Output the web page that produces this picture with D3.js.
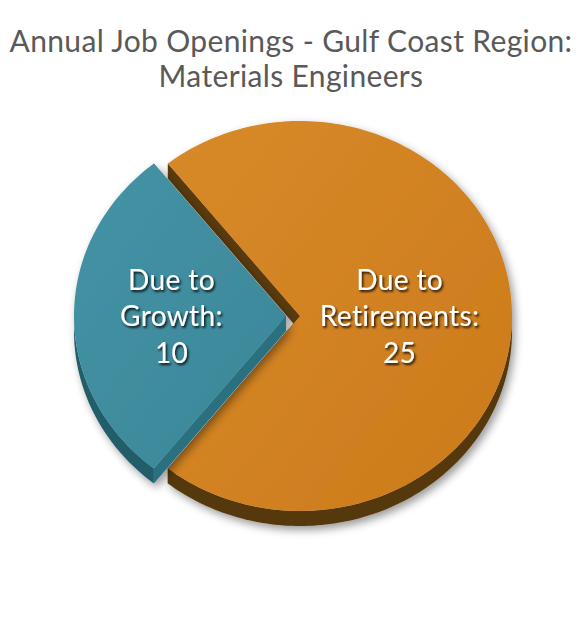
<!DOCTYPE html>
<html><head><meta charset="utf-8">
<script src="https://cdn.jsdelivr.net/npm/d3@7"></script>
<style>html,body{margin:0;padding:0;background:#fff;}svg{display:block;}</style>
</head><body>
<script>
const titleLines = ["Annual Job Openings - Gulf Coast Region:", "Materials Engineers"];
const categories = ["Due to Retirements", "Due to Growth"];
const labelLines = [["Due to", "Retirements:"], ["Due to", "Growth:"]];
const values = [25, 10];
const topColors = [["#d98b2b", "#cc7b1b"], ["#4494a6", "#367f90"]];
const sideColors = ["#5a3a0c", "#2a6f7f"];
const rimColors = ["#573709", "#235d6b"];

const W = 580, H = 617;
const svg = d3.select("body").append("svg").attr("width", W).attr("height", H);
const defs = svg.append("defs");

const sh = defs.append("filter").attr("id", "pieShadow").attr("x", "-20%").attr("y", "-20%").attr("width", "140%").attr("height", "140%");
sh.append("feDropShadow").attr("dx", 3).attr("dy", 4).attr("stdDeviation", 4).attr("flood-color", "#000").attr("flood-opacity", 0.4);
const ts = defs.append("filter").attr("id", "txtShadow").attr("x", "-20%").attr("y", "-30%").attr("width", "140%").attr("height", "160%");
ts.append("feDropShadow").attr("dx", 1.5).attr("dy", 2).attr("stdDeviation", 1.2).attr("flood-color", "#000").attr("flood-opacity", 0.85);

const cx = 300, cy = 316, rx = 212, ry = 195, depth = 15;

topColors.forEach((c, i) => {
  const g = defs.append("linearGradient").attr("id", "grad" + i)
    .attr("gradientUnits", "userSpaceOnUse").attr("x1", 80).attr("y1", 150).attr("x2", 510).attr("y2", 480);
  g.append("stop").attr("offset", 0).attr("stop-color", c[0]);
  g.append("stop").attr("offset", 1).attr("stop-color", c[1]);
});

const total = d3.sum(values);
const growthAngle = 2 * Math.PI * values[1] / total;
const start = -Math.PI / 2 + growthAngle / 2;
const pie = d3.pie().sort(null).startAngle(start).endAngle(start + 2 * Math.PI);
const arcs = pie(values);

const sx = d3.scaleLinear().domain([0, 1]).range([0, rx]);
const sy = d3.scaleLinear().domain([0, 1]).range([0, ry]);

function pt(ox, oy, a, r, dz) {
  return [ox + sx(r) * Math.sin(a), oy - sy(r) * Math.cos(a) + (dz || 0)];
}
function arcPts(ox, oy, a0, a1, dz) {
  const n = Math.max(2, Math.ceil(Math.abs(a1 - a0) / 0.02));
  const pts = [];
  for (let k = 0; k <= n; k++) pts.push(pt(ox, oy, a0 + (a1 - a0) * k / n, 1, dz));
  return pts;
}
const line = d3.line();

const explode = [0, 14];
const labelR = [0.47, 0.54];

const gAll = svg.append("g");
arcs.forEach((d, i) => {
  const mid = (d.startAngle + d.endAngle) / 2;
  const ox = cx + explode[i] * Math.sin(mid);
  const oy = cy - explode[i] * Math.cos(mid);
  const g = gAll.append("g").attr("filter", "url(#pieShadow)");
  const a0 = d.startAngle, a1 = d.endAngle;
  [a0, a1].forEach(a => {
    const p = pt(ox, oy, a, 1);
    const poly = [[ox, oy], p, [p[0], p[1] + depth], [ox, oy + depth]];
    g.append("path").attr("d", line(poly) + "Z").attr("fill", sideColors[i]);
  });
  for (let k = -1; k <= 1; k++) {
    const lo = Math.max(a0, Math.PI / 2 + 2 * Math.PI * k);
    const hi = Math.min(a1, 3 * Math.PI / 2 + 2 * Math.PI * k);
    if (hi > lo) {
      const topP = arcPts(ox, oy, lo, hi, 0);
      const botP = arcPts(ox, oy, lo, hi, depth).reverse();
      g.append("path").attr("d", line(topP.concat(botP)) + "Z").attr("fill", rimColors[i]);
    }
  }
  const face = [[ox, oy]].concat(arcPts(ox, oy, a0, a1, 0));
  g.append("path").attr("d", line(face) + "Z").attr("fill", "url(#grad" + i + ")");

  const lp = pt(ox, oy, mid, labelR[i]);
  const lines = labelLines[i].concat([String(values[i])]);
  const t = gAll.append("g").attr("filter", "url(#txtShadow)");
  lines.forEach((s, j) => {
    t.append("text").attr("x", lp[0]).attr("y", lp[1] + 10 + (j - 1) * 36.5)
      .attr("text-anchor", "middle").attr("font-family", "Lato, 'DejaVu Sans', sans-serif")
      .attr("font-size", 28).attr("letter-spacing", 0.4).attr("fill", "#fff").text(s);
  });
});

const titleY = [52, 87];
titleLines.forEach((s, j) => {
  svg.append("text").attr("x", 291).attr("y", titleY[j]).attr("text-anchor", "middle")
    .attr("font-family", "Lato, 'DejaVu Sans', sans-serif").attr("font-size", 30)
    .attr("letter-spacing", 0.35).attr("fill", "#595959").text(s);
});
</script>
</body></html>
